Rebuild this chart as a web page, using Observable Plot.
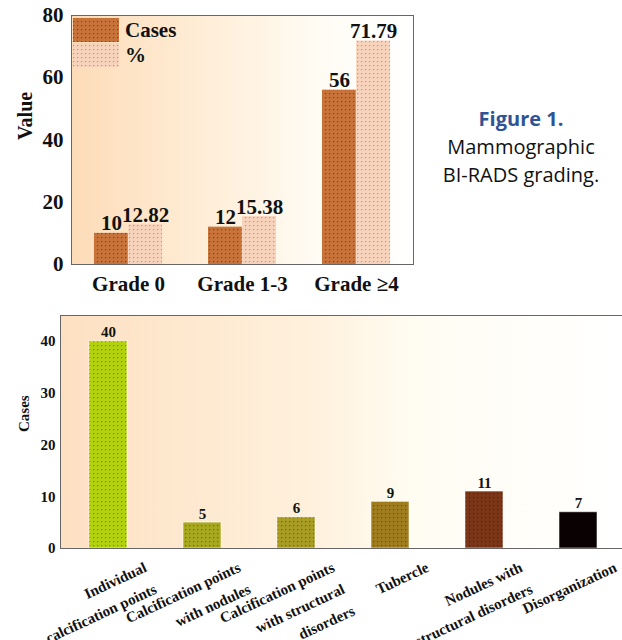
<!DOCTYPE html>
<html><head><meta charset="utf-8">
<script src="https://cdn.jsdelivr.net/npm/d3@7"></script>
<script src="https://cdn.jsdelivr.net/npm/@observablehq/plot@0.6"></script>
<style>
html,body{margin:0;padding:0;background:#fff;}
#page{position:relative;width:622px;height:640px;overflow:hidden;}
#top{position:absolute;left:0;top:0;width:420px;}
#legend{position:absolute;left:0;top:0;pointer-events:none;}
#caption{position:absolute;left:420px;top:105px;width:202px;text-align:center;font-family:"Open Sans",sans-serif;font-size:20px;line-height:28px;color:#111;}
#caption b{color:#2f5496;}
#bottom{position:absolute;left:0;top:300px;width:628px;}
</style></head>
<body>
<svg width="0" height="0" style="position:absolute;left:0;top:0"><defs id="defs"></defs></svg>
<div id="page">
  <div id="top"></div>
  <svg id="legend" width="220" height="80"></svg>
  <div id="caption"><b>Figure 1.</b><br>Mammographic<br>BI-RADS grading.</div>
  <div id="bottom"></div>
</div>
<script>
// ---- data: top chart ----
const grades = ["Grade 0", "Grade 1-3", "Grade ≥4"];
const casesTop = [10, 12, 56];
const pctTop = [12.82, 15.38, 71.79];
const seriesTop = ["Cases", "%"];
const yTicksTop = [0, 20, 40, 60, 80];

// ---- data: bottom chart ----
const findings = ["Individual calcification points", "Calcification points with nodules",
  "Calcification points with structural disorders", "Tubercle",
  "Nodules with structural disorders", "Disorganization"];
const findingCases = [40, 5, 6, 9, 11, 7];
const findingLabels = ["Individual\ncalcification points", "Calcification points\nwith nodules",
  "Calcification points\nwith structural\ndisorders", "Tubercle",
  "Nodules with\nstructural disorders", "Disorganization"];
const yTicksBottom = [0, 10, 20, 30, 40];

// ---- styles ----
const serif = "'Liberation Serif','Times New Roman',serif";
const findingColors = ["#b3d20c", "#a7a81c", "#a89c22", "#a07d1c", "#7b3517", "#0a0202"];

const defs = d3.select("#defs");
function addPattern(id, bg, dot) {
  const p = defs.append("pattern").attr("id", id).attr("width", 4).attr("height", 4)
    .attr("patternUnits", "userSpaceOnUse");
  p.append("rect").attr("width", 4).attr("height", 4).attr("fill", bg);
  p.append("rect").attr("x", 1).attr("y", 1).attr("width", 1.2).attr("height", 1.2).attr("fill", dot);
}
function addGradient(id, stops) {
  const g = defs.append("linearGradient").attr("id", id).attr("x1", 0).attr("x2", 1).attr("y1", 0).attr("y2", 0);
  stops.forEach(([o, c]) => g.append("stop").attr("offset", o).attr("stop-color", c));
}
addPattern("patCases", "#c8733a", "#7e3f1c");
addPattern("patPct", "#f8d3bc", "#c98e73");
findingColors.forEach((c, i) => addPattern("patF" + i, c, d3.color(c).darker(1.3).formatHex()));
addGradient("bgTop", [[0, "#fddcb8"], [0.45, "#fff0dc"], [0.72, "#fffcf4"], [1, "#ffffff"]]);
addGradient("bgBottom", [[0, "#fde0c2"], [0.45, "#fff1dd"], [0.62, "#fffcf2"], [1, "#ffffff"]]);

// ---- top chart ----
const W1 = 420, H1 = 300, ml1 = 71, mr1 = 7, mt1 = 15, mb1 = 36;
const pi1 = 0.4, po1 = 0.2;
const step1 = (W1 - ml1 - mr1) / (grades.length - pi1 + 2 * po1);
const bw1 = step1 * (1 - pi1);
const topData = grades.map((g, i) => ({grade: g, cases: casesTop[i], pct: pctTop[i]}));

const topPlot = Plot.plot({
  width: W1, height: H1, marginLeft: ml1, marginRight: mr1, marginTop: mt1, marginBottom: mb1,
  style: {fontFamily: serif, fontWeight: "bold", fontSize: "21px", color: "#111", background: "transparent", maxWidth: "none"},
  x: {domain: grades, paddingInner: pi1, paddingOuter: po1},
  y: {domain: [0, 80]},
  marks: [
    Plot.frame({fill: "url(#bgTop)", stroke: "none"}),
    Plot.barY(topData, {x: "grade", y: "cases", fill: "url(#patCases)", insetRight: bw1 / 2}),
    Plot.barY(topData, {x: "grade", y: "pct", fill: "url(#patPct)", insetLeft: bw1 / 2}),
    Plot.text(topData, {x: "grade", y: "cases", text: d => String(d.cases), dx: -bw1 / 4, dy: -3, lineAnchor: "bottom"}),
    Plot.text(topData, {x: "grade", y: "pct", text: d => d.pct.toFixed(2), dx: bw1 / 4, dy: -3, lineAnchor: "bottom"}),
    Plot.axisY({ticks: yTicksTop, tickSize: 0, tickPadding: 8, label: null}),
    Plot.axisX({tickSize: 0, tickPadding: 12, label: null}),
    Plot.text(["Value"], {frameAnchor: "left", text: d => d, rotate: -90, dx: -46, fontSize: 20}),
    Plot.frame({stroke: "#666"})
  ]
});
document.getElementById("top").appendChild(topPlot);

// legend (inside the top plot frame)
const lg = d3.select("#legend");
const pats = ["url(#patCases)", "url(#patPct)"];
seriesTop.forEach((s, i) => {
  lg.append("rect").attr("x", 73).attr("y", 18 + i * 25).attr("width", 46).attr("height", 24).attr("fill", pats[i]);
  lg.append("text").attr("x", 125).attr("y", 37 + i * 25).text(s)
    .attr("font-family", serif).attr("font-weight", "bold").attr("font-size", 21).attr("fill", "#111");
});

// ---- bottom chart ----
const W2 = 628, H2 = 340, ml2 = 60, mr2 = 2, mt2 = 15, mb2 = 92;
const bottomData = findings.map((f, i) => ({f, n: findingCases[i], label: findingLabels[i], fill: `url(#patF${i})`}));

const bottomPlot = Plot.plot({
  width: W2, height: H2, marginLeft: ml2, marginRight: mr2, marginTop: mt2, marginBottom: mb2,
  style: {fontFamily: serif, fontWeight: "bold", fontSize: "15px", color: "#111", background: "transparent", maxWidth: "none"},
  x: {domain: findings, paddingInner: 0.6, paddingOuter: 0.3, axis: null},
  y: {domain: [0, 45]},
  color: {type: "identity"},
  marks: [
    Plot.frame({fill: "url(#bgBottom)", stroke: "none"}),
    Plot.barY(bottomData, {x: "f", y: "n", fill: "fill", stroke: "#ffffff", strokeOpacity: 0.55, strokeWidth: 1}),
    Plot.text(bottomData, {x: "f", y: "n", text: d => String(d.n), dy: -4, lineAnchor: "bottom"}),
    Plot.axisY({ticks: yTicksBottom, tickSize: 0, tickPadding: 5, label: null}),
    Plot.text(bottomData, {x: "f", text: "label", frameAnchor: "bottom", textAnchor: "end", lineAnchor: "top",
      rotate: -25, dx: 32, dy: 7, lineHeight: 1.6}),
    Plot.text(["Cases"], {frameAnchor: "left", text: d => d, rotate: -90, dx: -36}),
    Plot.frame({stroke: "#666"})
  ]
});
document.getElementById("bottom").appendChild(bottomPlot);
</script>
</body></html>
